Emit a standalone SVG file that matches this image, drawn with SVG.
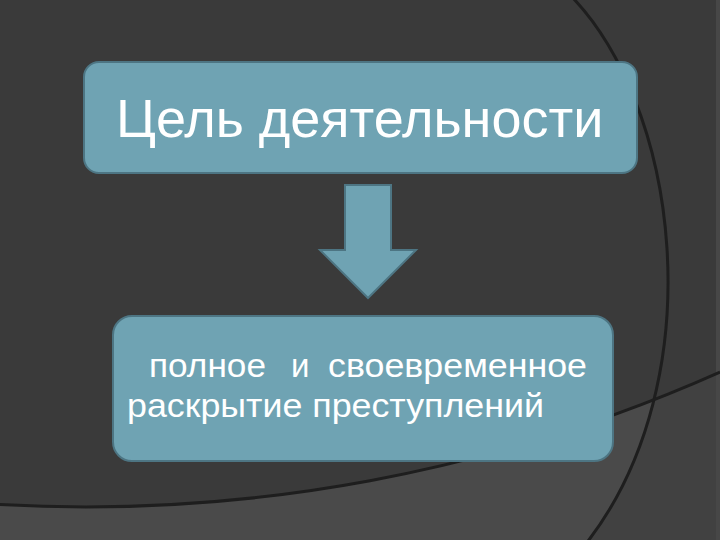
<svg xmlns="http://www.w3.org/2000/svg" width="720" height="540" viewBox="0 0 720 540">
<style>
.node{fill:#6fa3b3;stroke:#4d7583;stroke-width:2}
.t{fill:#ffffff;font-family:"Liberation Sans",Arial,sans-serif}
.bgline{fill:none;stroke:#1e1e1e;stroke-width:3}
</style>
<defs>
<clipPath id="below"><path d="M -10 504 C 250 520, 500 470, 720 372 L 720 545 L -10 545 Z"/></clipPath>
</defs>
<g id="background">
<rect x="0" y="0" width="720" height="540" fill="#3a3a3a"/>
<path d="M -10 504 C 250 520, 500 470, 720 372 L 720 545 L -10 545 Z" fill="#4a4a4a"/>
<path d="M 565 -10 C 680 100, 715 380, 585 545 L 725 545 L 725 -10 Z" fill="#414141" clip-path="url(#below)"/>
<rect x="716" y="0" width="4" height="540" fill="#474747"/>
<path class="bgline" d="M 565 -10 C 680 100, 715 380, 585 545"/>
<path class="bgline" d="M -10 504 C 250 520, 500 470, 720 372"/>
</g>
<g id="node-goal">
<rect class="node" x="84" y="62" width="553" height="111" rx="15"/>
<text class="t" x="116" y="137" font-size="54">Цель деятельности</text>
</g>
<g id="connectors">
<path class="node" d="M 345 185 L 391 185 L 391 250 L 416 250 L 368 298 L 320 250 L 345 250 Z"/>
</g>
<g id="node-result">
<rect class="node" x="113" y="316" width="500" height="145" rx="19"/>
<text class="t" font-size="33"><tspan x="149" y="377" textLength="117" lengthAdjust="spacingAndGlyphs">полное</tspan><tspan x="291" y="377">и</tspan><tspan x="328" y="377" textLength="259" lengthAdjust="spacingAndGlyphs">своевременное</tspan><tspan x="127" y="417" textLength="417" lengthAdjust="spacingAndGlyphs">раскрытие преступлений</tspan></text>
</g>
</svg>
